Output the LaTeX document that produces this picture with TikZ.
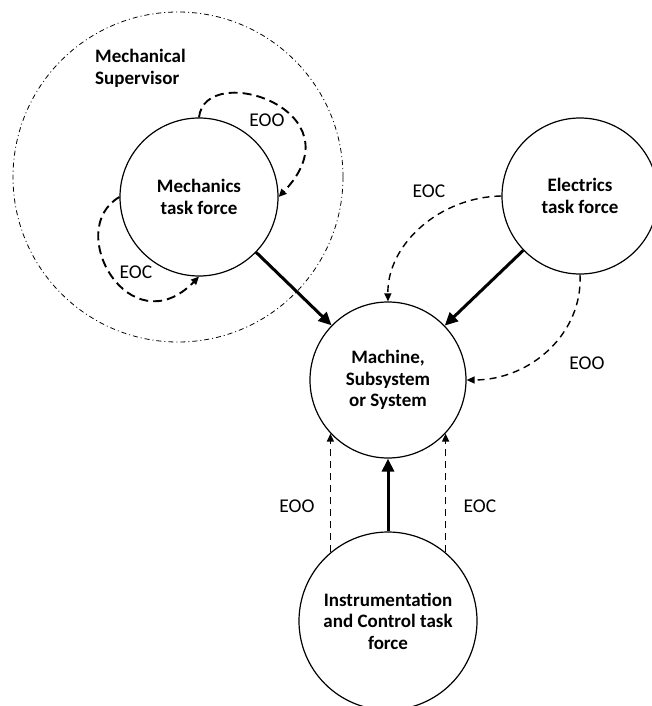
\documentclass[tikz,border=0pt]{standalone}
\usepackage{fontspec}
\setmainfont{Carlito}
\usetikzlibrary{arrows.meta}
\begin{document}
\begin{tikzpicture}[x=1pt,y=-1pt,
  unit/.style={circle,draw,line width=1.2pt,inner sep=0pt,minimum size=#1,align=center,
    font=\bfseries\fontsize{19}{21.5}\selectfont},
  lbl/.style={inner sep=0pt,font=\fontsize{19.5}{22}\selectfont},
  strong/.style={line width=3pt,-{Triangle[length=13pt,width=12pt]}},
  loopflow/.style={line width=1.9pt,dash pattern=on 9pt off 5pt,-{Triangle[length=8pt,width=7pt]}},
  flow/.style={line width=1.4pt,dash pattern=on 7pt off 5pt,-{Triangle[length=8pt,width=7pt]}},
  region/.style={circle,draw,line width=0.8pt,inner sep=0pt,minimum size=#1,
    dash pattern=on 5pt off 3pt on 1pt off 3pt},
]
\useasboundingbox (0,0) rectangle (652,706);
\clip (0,0) rectangle (652,706);

% supervisor's area of responsibility
\node[region=330pt] (supv) at (178,177) {};
\node[anchor=north west,inner sep=0pt,align=left,font=\bfseries\fontsize{19}{21.5}\selectfont]
  (supvtitle) at (95,49) {Mechanical\\Supervisor};

% task forces and the plant
\node[unit=158pt] (mech) at (199,197) {Mechanics\\task force};
\node[unit=156pt] (elec) at (580,196) {Electrics\\task force};
\node[unit=156pt] (mach) at (388,380) {Machine,\\Subsystem\\or System};
\node[unit=178pt] (inst) at (388,621) {Instrumentation\\and Control task\\force};

% direct interventions
\draw[strong] (mech) -- (mach);
\draw[strong] (elec) -- (mach);
\draw[strong] (inst) -- (mach);

% error loops inside the mechanics task force
\draw[loopflow] (mech.90) .. controls (205,60) and (362,110) .. (mech.0);
\draw[loopflow] (mech.180) .. controls (63,230) and (130,347) .. (mech.270);
\node[lbl] (eoo1) at (267,120) {EOO};
\node[lbl] (eoc1) at (136,272) {EOC};

% errors reaching the machine from electrics
\draw[flow] (elec.180) .. controls (440,197) and (387,244) .. (mach.90);
\draw[flow] (elec.270) .. controls (583,333) and (531,380) .. (mach.0);
\node[lbl] (eoc2) at (429,191) {EOC};
\node[lbl] (eoo2) at (587,363) {EOO};

% errors reaching the machine from instrumentation and control
\draw[flow] (inst.130) -- (inst.130 |- mach.223);
\draw[flow] (inst.50) -- (inst.50 |- mach.317);
\node[lbl] (eoo3) at (297,506) {EOO};
\node[lbl] (eoc3) at (480,506) {EOC};
\end{tikzpicture}
\end{document}
